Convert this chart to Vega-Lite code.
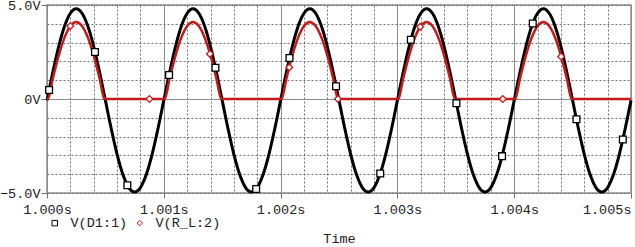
{
  "$schema": "https://vega.github.io/schema/vega-lite/v6.json",
  "width": 584,
  "height": 188,
  "autosize": {"type": "none"},
  "padding": {"left": 47, "top": 5, "right": 4, "bottom": 54},
  "background": "white",
  "config": {
    "font": "Liberation Mono",
    "view": {"stroke": "#8c8c8c", "strokeWidth": 1.5}
  },
  "datasets": {
    "d1": [
      {"time": 1.00000, "volts": -0.075}, {"time": 1.00005, "volts": 1.431}, {"time": 1.00010, "volts": 2.790}, {"time": 1.00015, "volts": 3.869}, {"time": 1.00020, "volts": 4.561},
      {"time": 1.00025, "volts": 4.800}, {"time": 1.00030, "volts": 4.561}, {"time": 1.00035, "volts": 3.869}, {"time": 1.00040, "volts": 2.790}, {"time": 1.00045, "volts": 1.431},
      {"time": 1.00050, "volts": -0.075}, {"time": 1.00055, "volts": -1.581}, {"time": 1.00060, "volts": -2.940}, {"time": 1.00065, "volts": -4.019}, {"time": 1.00070, "volts": -4.711},
      {"time": 1.00075, "volts": -4.950}, {"time": 1.00080, "volts": -4.711}, {"time": 1.00085, "volts": -4.019}, {"time": 1.00090, "volts": -2.940}, {"time": 1.00095, "volts": -1.581},
      {"time": 1.00100, "volts": -0.075}, {"time": 1.00105, "volts": 1.431}, {"time": 1.00110, "volts": 2.790}, {"time": 1.00115, "volts": 3.869}, {"time": 1.00120, "volts": 4.561},
      {"time": 1.00125, "volts": 4.800}, {"time": 1.00130, "volts": 4.561}, {"time": 1.00135, "volts": 3.869}, {"time": 1.00140, "volts": 2.790}, {"time": 1.00145, "volts": 1.431},
      {"time": 1.00150, "volts": -0.075}, {"time": 1.00155, "volts": -1.581}, {"time": 1.00160, "volts": -2.940}, {"time": 1.00165, "volts": -4.019}, {"time": 1.00170, "volts": -4.711},
      {"time": 1.00175, "volts": -4.950}, {"time": 1.00180, "volts": -4.711}, {"time": 1.00185, "volts": -4.019}, {"time": 1.00190, "volts": -2.940}, {"time": 1.00195, "volts": -1.581},
      {"time": 1.00200, "volts": -0.075}, {"time": 1.00205, "volts": 1.431}, {"time": 1.00210, "volts": 2.790}, {"time": 1.00215, "volts": 3.869}, {"time": 1.00220, "volts": 4.561},
      {"time": 1.00225, "volts": 4.800}, {"time": 1.00230, "volts": 4.561}, {"time": 1.00235, "volts": 3.869}, {"time": 1.00240, "volts": 2.790}, {"time": 1.00245, "volts": 1.431},
      {"time": 1.00250, "volts": -0.075}, {"time": 1.00255, "volts": -1.581}, {"time": 1.00260, "volts": -2.940}, {"time": 1.00265, "volts": -4.019}, {"time": 1.00270, "volts": -4.711},
      {"time": 1.00275, "volts": -4.950}, {"time": 1.00280, "volts": -4.711}, {"time": 1.00285, "volts": -4.019}, {"time": 1.00290, "volts": -2.940}, {"time": 1.00295, "volts": -1.581},
      {"time": 1.00300, "volts": -0.075}, {"time": 1.00305, "volts": 1.431}, {"time": 1.00310, "volts": 2.790}, {"time": 1.00315, "volts": 3.869}, {"time": 1.00320, "volts": 4.561},
      {"time": 1.00325, "volts": 4.800}, {"time": 1.00330, "volts": 4.561}, {"time": 1.00335, "volts": 3.869}, {"time": 1.00340, "volts": 2.790}, {"time": 1.00345, "volts": 1.431},
      {"time": 1.00350, "volts": -0.075}, {"time": 1.00355, "volts": -1.581}, {"time": 1.00360, "volts": -2.940}, {"time": 1.00365, "volts": -4.019}, {"time": 1.00370, "volts": -4.711},
      {"time": 1.00375, "volts": -4.950}, {"time": 1.00380, "volts": -4.711}, {"time": 1.00385, "volts": -4.019}, {"time": 1.00390, "volts": -2.940}, {"time": 1.00395, "volts": -1.581},
      {"time": 1.00400, "volts": -0.075}, {"time": 1.00405, "volts": 1.431}, {"time": 1.00410, "volts": 2.790}, {"time": 1.00415, "volts": 3.869}, {"time": 1.00420, "volts": 4.561},
      {"time": 1.00425, "volts": 4.800}, {"time": 1.00430, "volts": 4.561}, {"time": 1.00435, "volts": 3.869}, {"time": 1.00440, "volts": 2.790}, {"time": 1.00445, "volts": 1.431},
      {"time": 1.00450, "volts": -0.075}, {"time": 1.00455, "volts": -1.581}, {"time": 1.00460, "volts": -2.940}, {"time": 1.00465, "volts": -4.019}, {"time": 1.00470, "volts": -4.711},
      {"time": 1.00475, "volts": -4.950}, {"time": 1.00480, "volts": -4.711}, {"time": 1.00485, "volts": -4.019}, {"time": 1.00490, "volts": -2.940}, {"time": 1.00495, "volts": -1.581},
      {"time": 1.00500, "volts": -0.075}
    ],
    "rl": [
      {"time": 1.00000, "volts": 0}, {"time": 1.00001, "volts": 0.03}, {"time": 1.00005, "volts": 1.096}, {"time": 1.00010, "volts": 2.305}, {"time": 1.00015, "volts": 3.265},
      {"time": 1.00020, "volts": 3.881}, {"time": 1.00025, "volts": 4.094}, {"time": 1.00030, "volts": 3.881}, {"time": 1.00035, "volts": 3.265}, {"time": 1.00040, "volts": 2.305},
      {"time": 1.00045, "volts": 1.096}, {"time": 1.00049, "volts": 0.03}, {"time": 1.00050, "volts": 0},
      {"time": 1.00100, "volts": 0}, {"time": 1.00101, "volts": 0.03}, {"time": 1.00105, "volts": 1.096}, {"time": 1.00110, "volts": 2.305}, {"time": 1.00115, "volts": 3.265},
      {"time": 1.00120, "volts": 3.881}, {"time": 1.00125, "volts": 4.094}, {"time": 1.00130, "volts": 3.881}, {"time": 1.00135, "volts": 3.265}, {"time": 1.00140, "volts": 2.305},
      {"time": 1.00145, "volts": 1.096}, {"time": 1.00149, "volts": 0.03}, {"time": 1.00150, "volts": 0},
      {"time": 1.00200, "volts": 0}, {"time": 1.00201, "volts": 0.03}, {"time": 1.00205, "volts": 1.096}, {"time": 1.00210, "volts": 2.305}, {"time": 1.00215, "volts": 3.265},
      {"time": 1.00220, "volts": 3.881}, {"time": 1.00225, "volts": 4.094}, {"time": 1.00230, "volts": 3.881}, {"time": 1.00235, "volts": 3.265}, {"time": 1.00240, "volts": 2.305},
      {"time": 1.00245, "volts": 1.096}, {"time": 1.00249, "volts": 0.03}, {"time": 1.00250, "volts": 0},
      {"time": 1.00300, "volts": 0}, {"time": 1.00301, "volts": 0.03}, {"time": 1.00305, "volts": 1.096}, {"time": 1.00310, "volts": 2.305}, {"time": 1.00315, "volts": 3.265},
      {"time": 1.00320, "volts": 3.881}, {"time": 1.00325, "volts": 4.094}, {"time": 1.00330, "volts": 3.881}, {"time": 1.00335, "volts": 3.265}, {"time": 1.00340, "volts": 2.305},
      {"time": 1.00345, "volts": 1.096}, {"time": 1.00349, "volts": 0.03}, {"time": 1.00350, "volts": 0},
      {"time": 1.00400, "volts": 0}, {"time": 1.00401, "volts": 0.03}, {"time": 1.00405, "volts": 1.096}, {"time": 1.00410, "volts": 2.305}, {"time": 1.00415, "volts": 3.265},
      {"time": 1.00420, "volts": 3.881}, {"time": 1.00425, "volts": 4.094}, {"time": 1.00430, "volts": 3.881}, {"time": 1.00435, "volts": 3.265}, {"time": 1.00440, "volts": 2.305},
      {"time": 1.00445, "volts": 1.096}, {"time": 1.00449, "volts": 0.03}, {"time": 1.00450, "volts": 0},
      {"time": 1.00500, "volts": 0}
    ],
    "mk": [
      {"time": 1.000018, "volts": 0.48, "trace": "V(D1:1)"},
      {"time": 1.000411, "volts": 2.50, "trace": "V(D1:1)"},
      {"time": 1.000688, "volts": -4.59, "trace": "V(D1:1)"},
      {"time": 1.001045, "volts": 1.28, "trace": "V(D1:1)"},
      {"time": 1.001442, "volts": 1.66, "trace": "V(D1:1)"},
      {"time": 1.001791, "volts": -4.79, "trace": "V(D1:1)"},
      {"time": 1.002076, "volts": 2.18, "trace": "V(D1:1)"},
      {"time": 1.002475, "volts": 0.68, "trace": "V(D1:1)"},
      {"time": 1.002853, "volts": -3.96, "trace": "V(D1:1)"},
      {"time": 1.003115, "volts": 3.15, "trace": "V(D1:1)"},
      {"time": 1.003505, "volts": -0.23, "trace": "V(D1:1)"},
      {"time": 1.003896, "volts": -3.04, "trace": "V(D1:1)"},
      {"time": 1.004159, "volts": 4.02, "trace": "V(D1:1)"},
      {"time": 1.004533, "volts": -1.08, "trace": "V(D1:1)"},
      {"time": 1.004930, "volts": -2.15, "trace": "V(D1:1)"},
      {"time": 1.000200, "volts": 3.88, "trace": "V(R_L:2)"},
      {"time": 1.000877, "volts": 0, "trace": "V(R_L:2)"},
      {"time": 1.001395, "volts": 2.40, "trace": "V(R_L:2)"},
      {"time": 1.002074, "volts": 1.68, "trace": "V(R_L:2)"},
      {"time": 1.002491, "volts": 0, "trace": "V(R_L:2)"},
      {"time": 1.003195, "volts": 3.84, "trace": "V(R_L:2)"},
      {"time": 1.003902, "volts": 0, "trace": "V(R_L:2)"},
      {"time": 1.004402, "volts": 2.26, "trace": "V(R_L:2)"}
    ]
  },
  "encoding": {
    "x": {
      "field": "time",
      "type": "quantitative",
      "scale": {"domain": [1.0, 1.005], "nice": false, "zero": false},
      "axis": {
        "values": [1.0, 1.0002, 1.0004, 1.0006, 1.0008, 1.001, 1.0012, 1.0014, 1.0016, 1.0018, 1.002, 1.0022, 1.0024, 1.0026, 1.0028, 1.003, 1.0032, 1.0034, 1.0036, 1.0038, 1.004, 1.0042, 1.0044, 1.0046, 1.0048, 1.005],
        "domain": false,
        "grid": true,
        "gridColor": {"condition": {"test": "abs(datum.value*1000 - round(datum.value*1000)) < 0.01", "value": "#8c8c8c"}, "value": "#707070"},
        "gridDash": {"condition": {"test": "abs(datum.value*1000 - round(datum.value*1000)) < 0.01", "value": []}, "value": [2, 2]},
        "gridWidth": 1,
        "tickColor": "#707070",
        "tickSize": 5,
        "tickOpacity": {"condition": {"test": "abs(datum.value*1000 - round(datum.value*1000)) < 0.01", "value": 1}, "value": 0},
        "labelExpr": "abs(datum.value*1000 - round(datum.value*1000)) < 0.01 ? format(datum.value, '.3f') + 's' : ''",
        "labelFont": "Liberation Mono",
        "labelFontSize": 13.5,
        "labelColor": "#222222",
        "labelPadding": 4,
        "labelOverlap": false,
        "labelFlush": false,
        "labelAlign": {"condition": {"test": "datum.value > 1.00499", "value": "right"}, "value": "center"},
        "title": "Time",
        "titleFont": "Liberation Mono",
        "titleFontSize": 13.5,
        "titleFontWeight": "normal",
        "titleColor": "#222222",
        "titleY": 45,
        "titleBaseline": "middle"
      }
    },
    "y": {
      "field": "volts",
      "type": "quantitative",
      "scale": {"domain": [-5, 5], "nice": false},
      "axis": {
        "values": [-5, -4, -3, -2, -1, 0, 1, 2, 3, 4, 5],
        "domain": false,
        "grid": true,
        "gridColor": {"condition": {"test": "datum.value == 0", "value": "#8c8c8c"}, "value": "#707070"},
        "gridDash": {"condition": {"test": "datum.value == 0", "value": []}, "value": [2, 2]},
        "gridWidth": 1,
        "tickColor": "#707070",
        "tickSize": 6,
        "tickOpacity": {"condition": {"test": "datum.value % 5 == 0", "value": 1}, "value": 0},
        "labelExpr": "datum.value == 0 ? '0V' : (abs(datum.value) == 5 ? format(datum.value, '.1f') + 'V' : '')",
        "labelFont": "Liberation Mono",
        "labelFontSize": 13.5,
        "labelColor": "#222222",
        "labelPadding": 1,
        "labelOverlap": false,
        "labelFlush": false,
        "labelBaseline": "middle",
        "title": null
      }
    }
  },
  "layer": [
    {
      "data": {"name": "d1"},
      "mark": {"type": "line", "color": "#000000", "strokeWidth": 3, "interpolate": "monotone"}
    },
    {
      "data": {"name": "rl"},
      "mark": {"type": "line", "color": "#c41a1a", "strokeWidth": 2.5, "interpolate": "monotone"}
    },
    {
      "data": {"name": "mk"},
      "mark": {"type": "point", "filled": false, "fill": "white", "fillOpacity": 1, "strokeWidth": 1.3, "opacity": 1, "size": 46},
      "encoding": {
        "stroke": {
          "field": "trace",
          "type": "nominal",
          "scale": {"domain": ["V(D1:1)", "V(R_L:2)"], "range": ["#000000", "#c41a1a"]},
          "legend": {
            "orient": "none",
            "direction": "horizontal",
            "legendX": 1,
            "legendY": 211,
            "title": null,
            "labelFont": "Liberation Mono",
            "labelFontSize": 13.5,
            "labelColor": "#222222",
            "labelOffset": 9,
            "columnPadding": 5,
            "symbolSize": 30,
            "symbolStrokeWidth": 1,
            "symbolFillColor": "white",
            "padding": 0
          }
        },
        "shape": {
          "field": "trace",
          "type": "nominal",
          "scale": {"domain": ["V(D1:1)", "V(R_L:2)"], "range": ["square", "diamond"]},
          "legend": {
            "orient": "none",
            "direction": "horizontal",
            "legendX": 1,
            "legendY": 211,
            "title": null,
            "labelFont": "Liberation Mono",
            "labelFontSize": 13.5,
            "labelColor": "#222222",
            "labelOffset": 9,
            "columnPadding": 5,
            "symbolSize": 30,
            "symbolStrokeWidth": 1,
            "symbolFillColor": "white",
            "padding": 0
          }
        }
      }
    }
  ]
}
